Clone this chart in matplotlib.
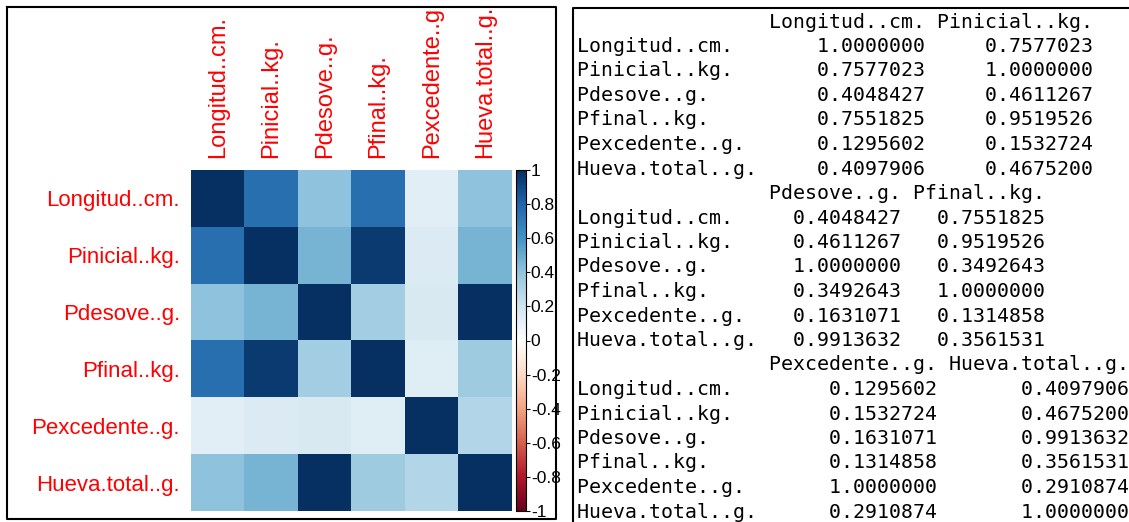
import matplotlib
matplotlib.use("Agg")
import matplotlib.pyplot as plt
from matplotlib.colors import LinearSegmentedColormap
from matplotlib.lines import Line2D
from matplotlib.patches import Rectangle

# variables y matriz de correlacion (cor() de R)
variables = ["Longitud..cm.", "Pinicial..kg.", "Pdesove..g.",
             "Pfinal..kg.", "Pexcedente..g.", "Hueva.total..g."]

longitud = [1.0000000, 0.7577023, 0.4048427, 0.7551825, 0.1295602, 0.4097906]
pinicial = [0.7577023, 1.0000000, 0.4611267, 0.9519526, 0.1532724, 0.4675200]
pdesove = [0.4048427, 0.4611267, 1.0000000, 0.3492643, 0.1631071, 0.9913632]
pfinal = [0.7551825, 0.9519526, 0.3492643, 1.0000000, 0.1314858, 0.3561531]
pexcedente = [0.1295602, 0.1532724, 0.1631071, 0.1314858, 1.0000000, 0.2910874]
hueva = [0.4097906, 0.4675200, 0.9913632, 0.3561531, 0.2910874, 1.0000000]

corr = [longitud, pinicial, pdesove, pfinal, pexcedente, hueva]

cbar_ticks = [1, 0.8, 0.6, 0.4, 0.2, 0, -0.2, -0.4, -0.6, -0.8, -1]

W, H = 1129, 522


def fx(x):
    return x / W


def fy(y):
    return 1 - y / H


# paleta COL2('RdBu') de corrplot
rdbu = LinearSegmentedColormap.from_list(
    "corrplot_rdbu",
    ["#67001F", "#B2182B", "#D6604D", "#F4A582", "#FDDBC7", "#FFFFFF",
     "#D1E5F0", "#92C5DE", "#4393C3", "#2166AC", "#053061"], N=200)

fig = plt.figure(figsize=(W / 100, H / 100), dpi=100)

# --- panel izquierdo: corrplot ---
ax = fig.add_axes([fx(191), fy(511), fx(512) - fx(191), fy(170) - fy(511)])
im = ax.imshow(corr, cmap=rdbu, vmin=-1, vmax=1, aspect="auto",
               interpolation="nearest")
n = len(variables)
ax.set_xticks(range(n))
ax.set_xticklabels(variables, rotation=90, color="red",
                   fontsize=17, family="Liberation Sans")
ax.set_yticks(range(n))
ax.set_yticklabels(variables, color="red", fontsize=16,
                   family="Liberation Sans")
ax.xaxis.tick_top()
ax.tick_params(axis="x", length=0, pad=8.5)
ax.tick_params(axis="y", length=0, pad=8)
for s in ax.spines.values():
    s.set_visible(False)

cax = fig.add_axes([fx(516), fy(511), fx(526) - fx(516), fy(170) - fy(511)])
cb = fig.colorbar(im, cax=cax, ticks=cbar_ticks)
cb.ax.set_yticklabels([("%g" % t) for t in cbar_ticks])
cb.ax.tick_params(length=3, width=0.8, pad=0.5, labelsize=12.5)
for lab in cb.ax.get_yticklabels():
    lab.set_family("Liberation Sans")
cb.outline.set_linewidth(0.8)

# las etiquetas largas quedan cortadas por el marco
fig.add_artist(Rectangle((0, fy(7)), fx(565), 1 - fy(7), color="white",
                         zorder=5))
fig.add_artist(Line2D([fx(7), fx(556), fx(556), fx(7), fx(7)],
                      [fy(7), fy(7), fy(519), fy(519), fy(7)],
                      color="black", lw=1.5, zorder=6))

# --- panel derecho: salida de consola ---
fig.add_artist(Line2D([fx(1140), fx(573), fx(573)],
                      [fy(8), fy(8), fy(530)], color="black", lw=1.5))

name_w = max(len(v) for v in variables)
lines = []
for start in range(0, n, 2):
    cols = range(start, min(start + 2, n))
    widths = [max(len(variables[j]), 9) for j in cols]
    head = " " * name_w
    for j, w in zip(cols, widths):
        head += " " + variables[j].rjust(w)
    lines.append(head)
    for i in range(n):
        row = variables[i].ljust(name_w)
        for j, w in zip(cols, widths):
            row += " " + ("%.7f" % corr[i][j]).rjust(w)
        lines.append(row)

for k, line in enumerate(lines):
    fig.text(fx(577), fy(22 + k * 24.5), line, family="DejaVu Sans Mono",
             fontsize=14.3, va="center", ha="left")

fig.savefig("out.png", dpi=100)
